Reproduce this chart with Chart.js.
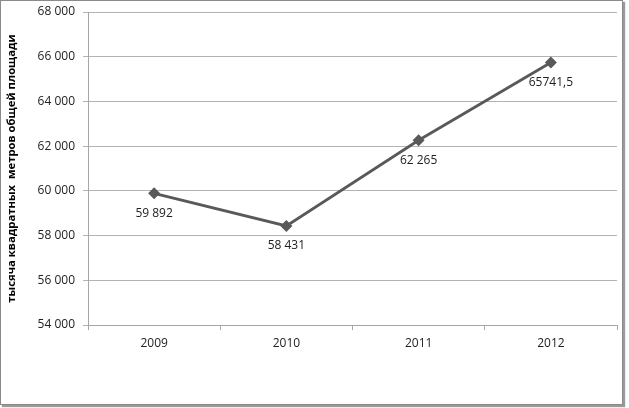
<!DOCTYPE html>
<html>
<head>
<meta charset="utf-8">
<script src="https://cdn.jsdelivr.net/npm/chart.js@4/dist/chart.umd.min.js"></script>
<style>
  html, body { margin: 0; padding: 0; background: #fff; }
  #wrap { position: relative; width: 629px; height: 408px; }
  #frame {
    position: absolute; left: 0; top: 0; width: 621px; height: 403px;
    border: 1px solid #8a8a8a; box-shadow: 2px 2px 1px #9a9a9a;
    pointer-events: none;
  }
  canvas { position: absolute; left: 0; top: 0; }
</style>
</head>
<body>
<div id="wrap">
  <canvas id="areaChart" width="629" height="408"></canvas>
  <div id="frame"></div>
</div>
<script>
  const years = ["2009", "2010", "2011", "2012"];
  const area = [59892, 58431, 62265, 65741.5];
  const pointLabels = ["59 892", "58 431", "62 265", "65741,5"];
  const yTicks = [54000, 56000, 58000, 60000, 62000, 64000, 66000, 68000];

  const fontName = "'Open Sans', 'Noto Sans', sans-serif";

  // simple value labels under each point
  const labelPlugin = {
    id: "pointValues",
    afterDatasetsDraw(chart) {
      const ctx = chart.ctx;
      const meta = chart.getDatasetMeta(0);
      ctx.save();
      ctx.font = "12px " + fontName;
      ctx.fillStyle = "#222";
      ctx.textAlign = "center";
      ctx.textBaseline = "middle";
      meta.data.forEach((pt, i) => {
        ctx.fillText(pointLabels[i], pt.x, pt.y + 20);
      });
      ctx.restore();
    },
  };

  new Chart(document.getElementById("areaChart"), {
    type: "line",
    data: {
      labels: years,
      datasets: [
        {
          data: area,
          borderColor: "#595959",
          borderWidth: 2.8,
          backgroundColor: "#595959",
          pointStyle: "rectRot",
          pointRadius: 6,
          pointBorderWidth: 0,
          tension: 0,
        },
      ],
    },
    options: {
      responsive: false,
      animation: false,
      devicePixelRatio: 1,
      layout: { padding: { left: 5, top: 12, right: 12, bottom: 0 } },
      plugins: {
        legend: { display: false },
        tooltip: { enabled: false },
      },
      scales: {
        x: {
          offset: true,
          grid: {
            display: true,
            drawOnChartArea: false,
            offset: true,
            color: "#a6a6a6",
            tickLength: 5,
          },
          border: { color: "#a6a6a6" },
          ticks: {
            color: "#222",
            font: { family: fontName, size: 12 },
            padding: 6,
          },
          afterFit(scale) {
            scale.height = 83;
          },
        },
        y: {
          min: 54000,
          max: 68000,
          afterBuildTicks(scale) {
            scale.ticks = yTicks.map((v) => ({ value: v }));
          },
          grid: {
            color: "#b3b3b3",
            tickLength: 5,
          },
          border: { color: "#a6a6a6" },
          ticks: {
            color: "#222",
            font: { family: fontName, size: 12 },
            padding: 8,
            callback: (v) => String(v).replace(/\B(?=(\d{3})+(?!\d))/g, " "),
          },
          title: {
            display: true,
            text: "тысяча квадратных  метров общей площади",
            color: "#000",
            font: { family: fontName, size: 11.3, weight: "bold" },
            padding: { top: 0, bottom: 4 },
          },
          afterFit(scale) {
            scale.width = 83;
            scale.paddingTop = 0;
            scale.paddingBottom = 0;
          },
        },
      },
    },
    plugins: [labelPlugin],
  });
</script>
</body>
</html>
